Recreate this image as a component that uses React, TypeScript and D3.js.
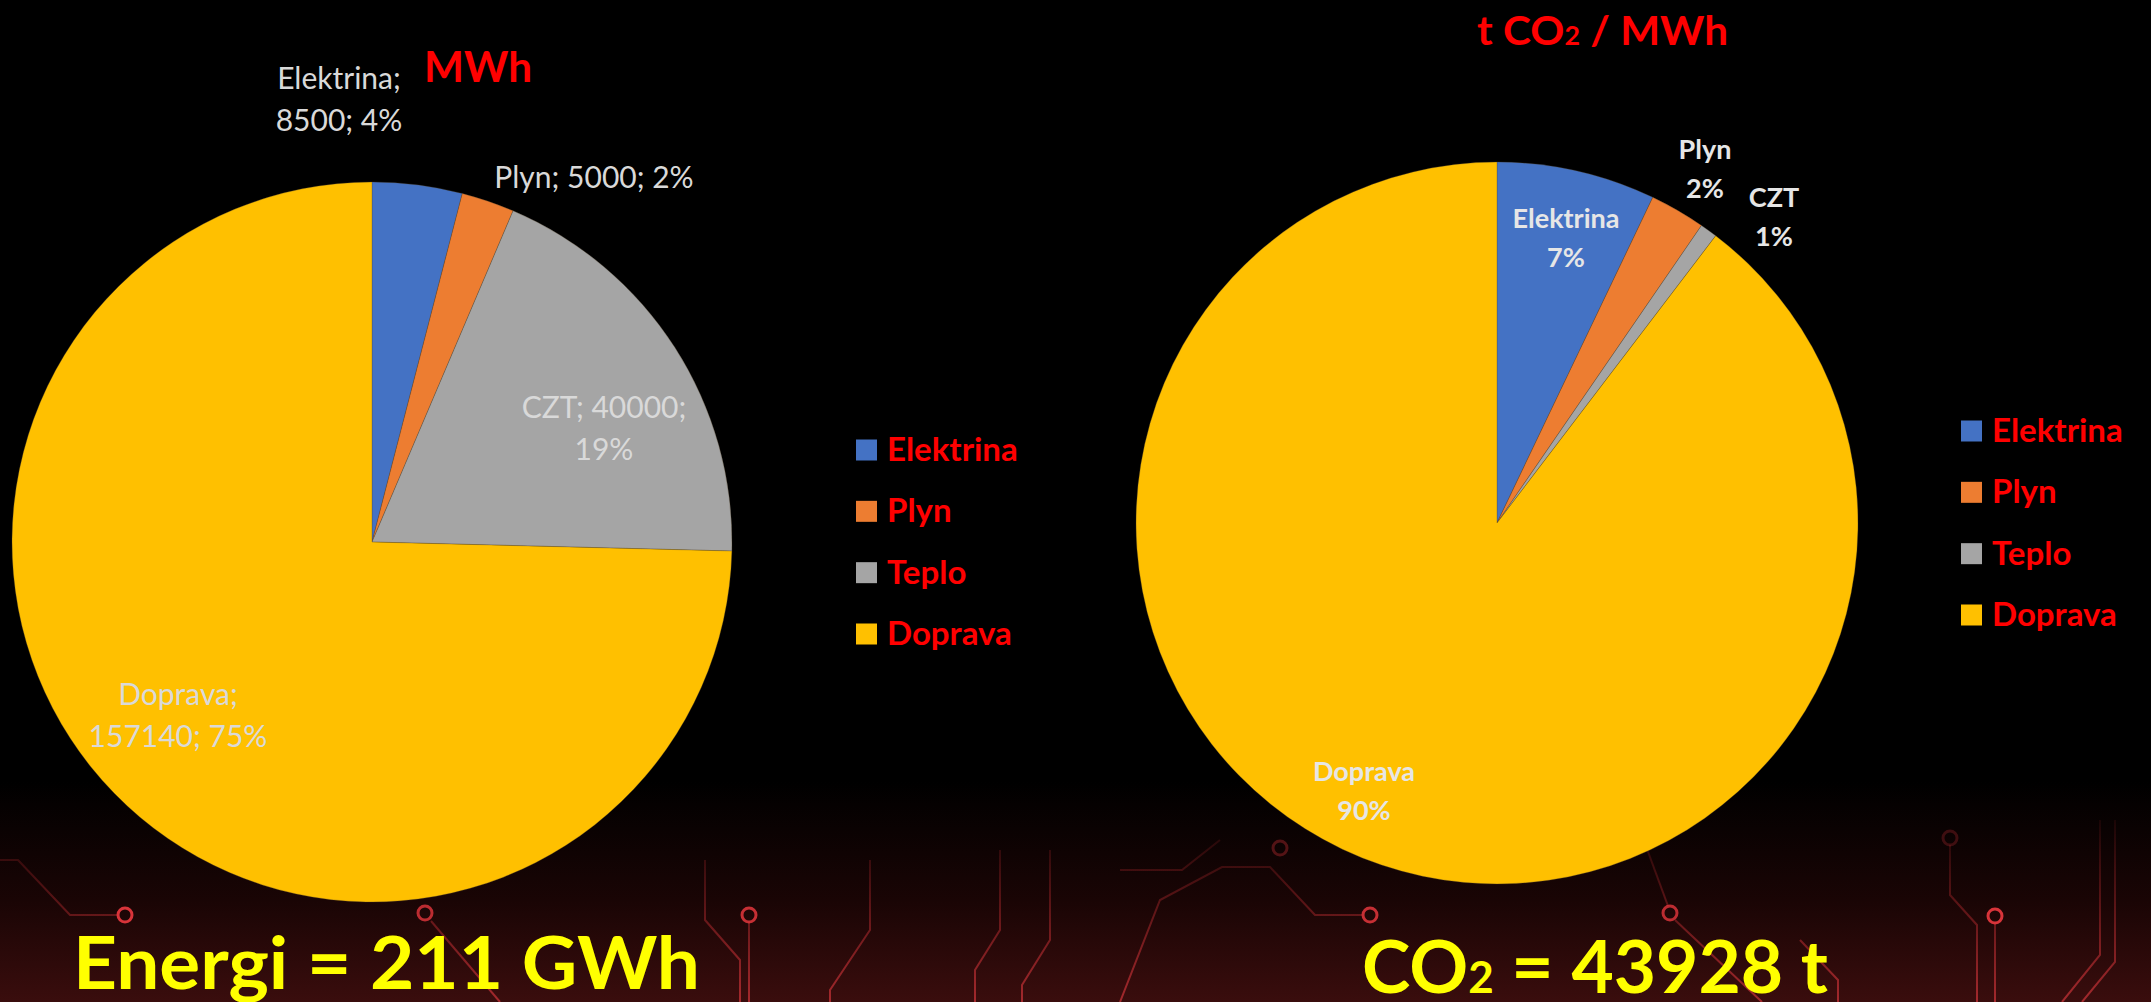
import React from "react";
import * as d3 from "d3";

// chart values
const energyNames = ["Elektrina", "Plyn", "CZT", "Doprava"];
const energyValues = [8500, 5000, 40000, 157140];
const co2Names = ["Elektrina", "Plyn", "CZT", "Doprava"];
const co2Values = [3120, 1090, 340, 39378];
const legendNames = ["Elektrina", "Plyn", "Teplo", "Doprava"];
const sliceColors = ["#4472c4", "#ed7d31", "#a5a5a5", "#ffc000"];

const W = 2151;
const H = 1002;
const FONT = "Lato, 'Open Sans', sans-serif";

// label placement relative to the pie centre (first line), and how many ";" tokens on line 1
const energyLabelPos = [[-33, -465, 1], [222, -366, 3], [232, -136, 2], [-194, 151, 1]];
const co2LabelPos = [[69, -306], [208, -375], [277, -327], [-133, 247]];

const pct = d3.format(".0%");

function Pie({ cx, cy, r, values }: { cx: number; cy: number; r: number; values: number[] }) {
  const arcs = d3.pie<number>().sort(null).value((d) => d)(values);
  const arc = d3.arc<d3.PieArcDatum<number>>().innerRadius(0).outerRadius(r);
  return (
    <g transform={`translate(${cx},${cy})`}>
      {arcs.map((a, i) => (
        <path key={i} d={arc(a) || ""} fill={sliceColors[i]} stroke="#5a4a30" strokeWidth={0.6} strokeOpacity={0.5} />
      ))}
    </g>
  );
}

function Legend({ x, y0, y1 }: { x: number; y0: number; y1: number }) {
  const y = d3.scalePoint<string>().domain(legendNames).range([y0, y1]);
  return (
    <g>
      {legendNames.map((n, i) => (
        <g key={n}>
          <rect x={x} y={(y(n) || 0) - 10.5} width={21} height={21} fill={sliceColors[i]} />
          <text x={x + 31} y={(y(n) || 0) + 11} fill="#ff0000" fontWeight={700} fontSize={33} fontFamily={FONT}>
            {n}
          </text>
        </g>
      ))}
    </g>
  );
}

// decorative circuit traces of the slide background
function Circuit() {
  const traces = [
    "M0 860 L18 860 L70 915 L118 915",
    "M431 921 L500 1002",
    "M705 860 L705 920 L740 960 L740 1002",
    "M749 922 L749 1002",
    "M870 860 L870 930 L830 990 L830 1002",
    "M1000 850 L1000 930 L975 970 L975 1002",
    "M1050 850 L1050 940 L1022 985 L1022 1002",
    "M1120 1002 L1160 900 L1222 867 L1270 867 L1315 915 L1362 915",
    "M1640 830 L1668 906",
    "M1675 920 L1762 1002",
    "M1995 923 L1995 1002",
    "M1950 845 L1950 895 L1977 925 L1977 1002",
    "M2100 820 L2100 955 L2062 1002",
    "M2115 820 L2115 962 L2082 1002",
    "M1800 940 L1838 980 L1838 1002",
    "M1220 840 L1182 870 L1120 870",
  ];
  const rings = [[125, 915, 1], [425, 913, 0.85], [749, 915, 0.9], [1280, 848, 0.35], [1370, 915, 0.9], [1670, 913, 0.85], [1995, 916, 1], [1950, 838, 0.25]];
  return (
    <g fill="none">
      {traces.map((d, i) => (
        <path key={i} d={d} stroke="url(#trace)" strokeWidth={2} />
      ))}
      {rings.map(([x, y, o], i) => (
        <circle key={i} cx={x} cy={y} r={7} stroke="#d8343a" strokeWidth={3} strokeOpacity={o} />
      ))}
    </g>
  );
}

export default function App() {
  const eTotal = d3.sum(energyValues);
  const cTotal = d3.sum(co2Values);
  const L = { cx: 372, cy: 542, r: 360 };
  const R = { cx: 1497, cy: 523, r: 361 };

  return (
    <div style={{ position: "absolute", left: 0, top: 0 }}>
      <svg width={W} height={H} style={{ display: "block" }}>
        <defs>
          <linearGradient id="bg" x1="0" y1="0" x2="0" y2="1">
            <stop offset="0.78" stopColor="#000000" />
            <stop offset="0.9" stopColor="#1a0505" />
            <stop offset="1" stopColor="#3a0d0d" />
          </linearGradient>
          <linearGradient id="trace" gradientUnits="userSpaceOnUse" x1="0" y1="820" x2="0" y2="1002">
            <stop offset="0" stopColor="#b8262b" stopOpacity={0.1} />
            <stop offset="1" stopColor="#d0353a" stopOpacity={0.7} />
          </linearGradient>
        </defs>
        <rect width={W} height={H} fill="url(#bg)" />
        <Circuit />

        <Pie cx={L.cx} cy={L.cy} r={L.r} values={energyValues} />
        <Pie cx={R.cx} cy={R.cy} r={R.r} values={co2Values} />

        {/* left data labels */}
        {energyNames.map((n, i) => {
          const tokens = [n, String(energyValues[i]), pct(energyValues[i] / eTotal)];
          const k = energyLabelPos[i][2];
          const lines = [tokens.slice(0, k), tokens.slice(k)].filter((t) => t.length);
          const txt = lines.map((t, j) => t.join("; ") + (j < lines.length - 1 ? ";" : ""));
          return (
            <text key={n} textAnchor="middle" fill="#d9d9d9" fontSize={30} fontFamily={FONT} dominantBaseline="central">
              {txt.map((t, j) => (
                <tspan key={j} x={L.cx + energyLabelPos[i][0]} y={L.cy + energyLabelPos[i][1] + j * 42}>
                  {t}
                </tspan>
              ))}
            </text>
          );
        })}

        {/* right data labels */}
        {co2Names.map((n, i) => (
          <text key={n} textAnchor="middle" fill="#e6e6e6" fontSize={27} fontWeight={700} fontFamily={FONT} dominantBaseline="central">
            <tspan x={R.cx + co2LabelPos[i][0]} y={R.cy + co2LabelPos[i][1]}>{n}</tspan>
            <tspan x={R.cx + co2LabelPos[i][0]} y={R.cy + co2LabelPos[i][1] + 39}>{pct(co2Values[i] / cTotal)}</tspan>
          </text>
        ))}

        <Legend x={856} y0={450} y1={634} />
        <Legend x={1961} y0={431} y1={615} />

        <text x={424} y={82} fill="#ff0000" fontWeight={700} fontSize={42} fontFamily={FONT} textLength={108} lengthAdjust="spacingAndGlyphs">
          MWh
        </text>
        <text x={1477} y={45} fill="#ff0000" fontWeight={700} fontSize={41} fontFamily={FONT} textLength={251} lengthAdjust="spacingAndGlyphs">
          t CO<tspan fontSize={26}>2</tspan> / MWh
        </text>

        <text x={73} y={989} fill="#ffff00" fontWeight={700} fontSize={73} fontFamily={FONT} textLength={627} lengthAdjust="spacingAndGlyphs">
          Energi = 211 GWh
        </text>
        <text x={1362} y={993} fill="#ffff00" fontWeight={700} fontSize={73} fontFamily={FONT} textLength={466} lengthAdjust="spacingAndGlyphs">
          CO<tspan fontSize={44}>2</tspan> = {d3.format("d")(cTotal)} t
        </text>
      </svg>
    </div>
  );
}
